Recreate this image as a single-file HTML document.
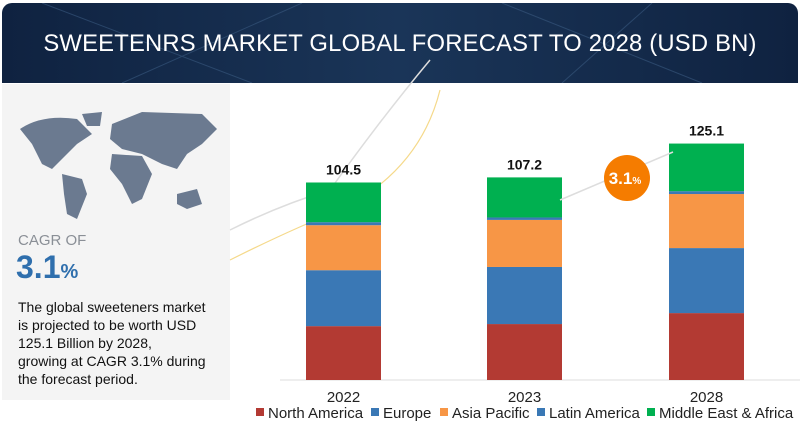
<!DOCTYPE html>
<html><head><meta charset="utf-8"><style>
body{margin:0;width:800px;height:438px;background:#fff;font-family:"Liberation Sans",sans-serif;overflow:hidden;position:relative}
.hdr{position:absolute;left:2px;top:3px;width:796px;height:80px;border-radius:10px 10px 0 0;background:linear-gradient(90deg,#0f2240,#1a3558 50%,#0f2240);}
.hdr h1{margin:0;position:absolute;left:0;right:0;top:27px;text-align:center;color:#fff;font-size:23.8px;font-weight:normal;letter-spacing:0.2px}
.left{position:absolute;left:2px;top:84px;width:228px;height:316px;background:#f4f4f4}
</style></head><body>
<div class="hdr">
<svg width="796" height="80" style="position:absolute;left:0;top:0">
<path d="M40 0 L250 80 M300 0 L120 80 M500 0 L700 80 M650 0 L560 80" stroke="#3a5a80" stroke-width="1" opacity="0.6"/>
</svg>
<h1>SWEETENRS MARKET GLOBAL FORECAST TO 2028 (USD BN)</h1>
</div>
<div class="left">
<svg width="228" height="150" style="position:absolute;left:0;top:0">
<g fill="#6b7a90">
<path d="M18 45 Q40 30 75 35 L90 50 L75 60 L60 75 L50 85 L40 80 L30 60 Z"/>
<path d="M80 30 L100 28 L98 42 L85 42 Z"/>
<path d="M60 90 L80 95 L85 110 L75 135 L65 130 L62 110 Z"/>
<path d="M110 40 L140 28 L200 30 L215 45 L200 60 L185 70 L175 85 L160 80 L140 70 L120 65 L108 55 Z"/>
<path d="M110 70 L140 72 L150 90 L140 115 L130 120 L120 100 L108 85 Z"/>
<path d="M175 110 L195 105 L200 120 L185 125 L175 120 Z"/>
</g></svg>
<div style="position:absolute;left:16px;top:148px;font-size:15px;color:#8a8f96">CAGR OF</div>
<div style="position:absolute;left:14px;top:165px;font-size:32px;color:#2f6fad;font-weight:bold">3.1<span style="font-size:20px">%</span></div>
<div style="position:absolute;left:16px;top:214px;white-space:nowrap;font-size:14px;line-height:18px;color:#111">The global sweeteners market<br>is projected to be worth USD<br>125.1 Billion by 2028,<br>growing at CAGR 3.1% during<br>the forecast period.</div>
</div>
<svg id="chart" width="800" height="438" style="position:absolute;left:0;top:0"></svg>
<script>
const categories=["2022","2023","2028"];
const northAmerica=[28.5,29.6,35.4];
const europe=[29.6,30.2,34.4];
const asiaPacific=[23.8,24.9,28.6];
const latinAmerica=[1.6,1.3,1.5];
const middleEastAfrica=[21.0,21.2,25.2];
const totals=["104.5","107.2","125.1"];
const seriesNames=["North America","Europe","Asia Pacific","Latin America","Middle East & Africa"];
const seriesData=[northAmerica,europe,asiaPacific,latinAmerica,middleEastAfrica];
const colors=["#b33a33","#3a78b5","#f79646","#3a78b5","#00b050"];
const NS="http://www.w3.org/2000/svg";
const svg=document.getElementById('chart');
const base=380,scale=1.89,bw=75;
function x(i){return [306,487,669][i];}
function y(v){return base-v*scale;}
function mk(t,a){const e=document.createElementNS(NS,t);for(const k in a)e.setAttribute(k,a[k]);svg.appendChild(e);return e;}
let c1=mk('path',{d:"M230 230 Q280 205 330 190 Q380 120 430 60",fill:"none",stroke:"#ddd","stroke-width":1.5});


let c2=mk('path',{d:"M230 260 Q290 230 340 210 Q420 170 440 90",fill:"none",stroke:"#f5d98a","stroke-width":1.2});


let ax=mk('line',{x1:280,x2:800,y1:base,y2:base,stroke:"#ddd"});


categories.forEach((c,i)=>{
 let cum=0;
 seriesData.forEach((s,j)=>{
  const r=mk('rect',{x:x(i),y:y(cum+s[i]),width:bw,height:s[i]*scale,fill:colors[j]});
  
  
  cum+=s[i];
 });
 const t=mk('text',{x:x(i)+bw/2,y:y(cum)-8,"text-anchor":"middle","font-size":14,"font-weight":"bold",fill:"#111"});
 t.textContent=totals[i];
 
 
 const l=mk('text',{x:x(i)+bw/2,y:402,"text-anchor":"middle","font-size":15,fill:"#222"});
 l.textContent=c;
 
 
});
let ar=mk('line',{x1:560,y1:200,x2:673,y2:152,stroke:"#ddd","stroke-width":1.5});


let ci=mk('circle',{cx:627,cy:178,r:23,fill:"#f57c00"});


let bt=mk('text',{x:625,y:184,"text-anchor":"middle","font-size":17,"font-weight":"bold",fill:"#fff"});
bt.innerHTML='3.1<tspan font-size="10">%</tspan>';


const lx=[256,371,440,537,647];
seriesNames.forEach((n,j)=>{
 const r=mk('rect',{x:lx[j],y:408,width:8,height:8,fill:colors[j]});
 
 
 const t=mk('text',{x:lx[j]+12,y:418,"font-size":15,fill:"#222"});
 t.textContent=n;
 
 
});
</script>
</body></html>
